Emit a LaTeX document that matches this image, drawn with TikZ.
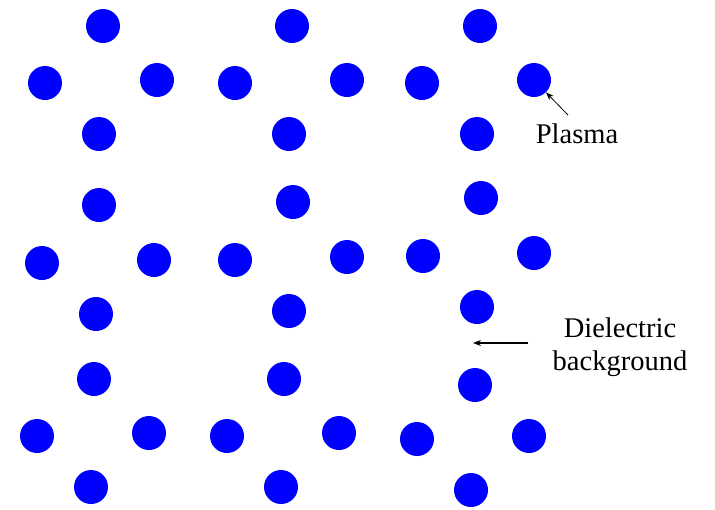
\documentclass[tikz,border=0pt]{standalone}
\usepackage{fontspec}
\setmainfont{Liberation Serif}
\newfontfamily\lblfont{Liberation Serif}
\usetikzlibrary{arrows.meta}
\begin{document}
\begin{tikzpicture}[x=1pt,y=-1pt,
  rod/.style={circle,fill={rgb,255:red,0;green,0;blue,255},minimum size=34pt,inner sep=0pt},
  lbl/.style={font=\lblfont\fontsize{28.5}{33}\selectfont,inner sep=0pt,align=center},
  pointer/.style={draw=black,-{Stealth[length=8pt,width=6pt]}}]
\useasboundingbox (0,0) rectangle (715,509);
% row 1
\node[rod] (r1a) at (103,26) {};
\node[rod] (r1b) at (292,26) {};
\node[rod] (r1c) at (480,26) {};
% row 2
\node[rod] (r2a) at (45,83) {};
\node[rod] (r2b) at (157,80) {};
\node[rod] (r2c) at (235,83) {};
\node[rod] (r2d) at (347,80) {};
\node[rod] (r2e) at (422,83) {};
\node[rod] (r2f) at (534,80) {};
% row 3
\node[rod] (r3a) at (99,134) {};
\node[rod] (r3b) at (289,134) {};
\node[rod] (r3c) at (477,134) {};
% row 4
\node[rod] (r4a) at (99,205) {};
\node[rod] (r4b) at (293,202) {};
\node[rod] (r4c) at (481,198) {};
% row 5
\node[rod] (r5a) at (42,263) {};
\node[rod] (r5b) at (154,260) {};
\node[rod] (r5c) at (235,260) {};
\node[rod] (r5d) at (347,257) {};
\node[rod] (r5e) at (423,256) {};
\node[rod] (r5f) at (534,253) {};
% row 6
\node[rod] (r6a) at (96,314) {};
\node[rod] (r6b) at (289,311) {};
\node[rod] (r6c) at (477,307) {};
% row 7
\node[rod] (r7a) at (94,379) {};
\node[rod] (r7b) at (284,379) {};
\node[rod] (r7c) at (475,385) {};
% row 8
\node[rod] (r8a) at (37,436) {};
\node[rod] (r8b) at (149,433) {};
\node[rod] (r8c) at (227,436) {};
\node[rod] (r8d) at (339,433) {};
\node[rod] (r8e) at (417,439) {};
\node[rod] (r8f) at (529,436) {};
% row 9
\node[rod] (r9a) at (91,487) {};
\node[rod] (r9b) at (281,487) {};
\node[rod] (r9c) at (471,490) {};
% labels
\node[lbl,anchor=base] (plasma) at (577,143) {Plasma};
\coordinate (ptail) at (568,115);
\draw[pointer,line width=0.8pt] (ptail) -- (r2f);
\node[lbl,anchor=base] (diel) at (620,370) {Dielectric\\background};
\coordinate (dtail) at (528,343);
\coordinate (dhead) at (473,343);
\draw[pointer,line width=1.3pt] (dtail) -- (dhead);
\end{tikzpicture}
\end{document}
